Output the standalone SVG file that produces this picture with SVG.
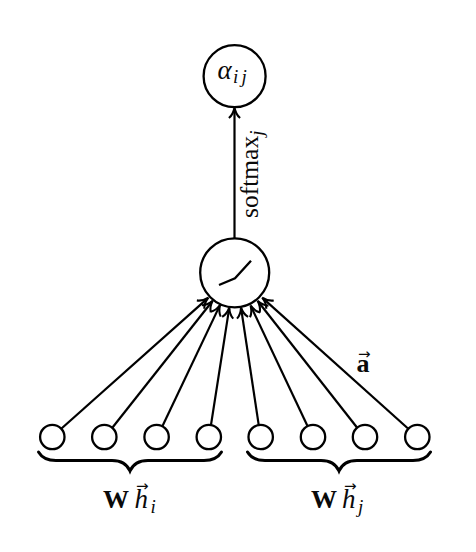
<svg xmlns="http://www.w3.org/2000/svg" width="476" height="552" viewBox="0 0 476 552">
<style>
.n{fill:#fff;stroke:#000;stroke-width:2.3}
.c{fill:none;stroke:#000;stroke-width:2.2;marker-end:url(#tip)}
.b{fill:none;stroke:#000;stroke-width:3;stroke-linecap:round}
text{font-family:"Liberation Serif","DejaVu Serif",serif;fill:#0a0a0a}
.m{font-size:27px;font-style:italic}
.s{font-size:19px;font-style:italic}
.w{font-size:26px;font-weight:700}
.v{font-size:15px;font-weight:400;font-family:"DejaVu Sans",sans-serif}
</style>
<defs>
<marker id="tip" markerUnits="userSpaceOnUse" markerWidth="20" markerHeight="20" viewBox="-14 -10 20 20" refX="0" refY="0" orient="auto" overflow="visible">
<path d="M-9 -5.600C-6.500 -2.500 -3 -.8 1.500 0C-3 .8 -6.500 2.500 -9 5.600" fill="none" stroke="#000" stroke-width="2.100"/>
</marker>
</defs>
<g id="connectors">
<line class="c" x1="234.5" y1="238" x2="234.5" y2="109"/>
<line class="c" x1="61.5" y1="428.5" x2="207.3" y2="298.6"/>
<line class="c" x1="112.5" y1="427.5" x2="211.9" y2="301.7"/>
<line class="c" x1="162.5" y1="426" x2="219.500" y2="306.100"/>
<line class="c" x1="211" y1="424.8" x2="229.100" y2="308.900"/>
<line class="c" x1="258.7" y1="424.8" x2="241.200" y2="308.900"/>
<line class="c" x1="307.5" y1="426" x2="251.200" y2="306.800"/>
<line class="c" x1="357" y1="427.5" x2="258.500" y2="302"/>
<line class="c" x1="408" y1="428.5" x2="263.300" y2="298.600"/>
</g>
<g id="alpha">
<circle class="n" cx="234.6" cy="76.2" r="31"/>
<text><tspan class="m" x="217.500" y="79">α</tspan><tspan class="s" x="233" y="83">i</tspan><tspan class="s" x="241.500" y="83">j</tspan></text>
</g>
<g id="softmax-label">
<text transform="translate(258 218) rotate(-90)" font-size="25.500"><tspan>softmax</tspan><tspan class="s" dy="5">j</tspan></text>
</g>
<g id="activation">
<circle class="n" cx="234.7" cy="272.8" r="34.5"/>
<polyline points="219,285 235,278.3 251,260.7" fill="none" stroke="#000" stroke-width="2.3"/>
</g>
<g id="input-1"><circle class="n" cx="52.3" cy="437" r="12.2"/></g>
<g id="input-2"><circle class="n" cx="104.3" cy="437" r="12.2"/></g>
<g id="input-3"><circle class="n" cx="156.6" cy="437" r="12.2"/></g>
<g id="input-4"><circle class="n" cx="208.8" cy="437" r="12.2"/></g>
<g id="input-5"><circle class="n" cx="260.7" cy="437" r="12.2"/></g>
<g id="input-6"><circle class="n" cx="313" cy="437" r="12.2"/></g>
<g id="input-7"><circle class="n" cx="365" cy="437" r="12.2"/></g>
<g id="input-8"><circle class="n" cx="417.3" cy="437" r="12.2"/></g>
<g id="brace-i">
<path class="b" d="M38.500 452C42 458 47 460.500 56 460.500H112C122 460.500 127 464 130 471C133 464 138 460.500 148 460.500H204C213 460.500 218 458 221.500 452"/>
<text><tspan class="w" x="103" y="508">W</tspan><tspan class="v" x="136" y="490.500">→</tspan><tspan class="m" x="134.500" y="508">h</tspan><tspan class="s" x="150.500" y="512.500">i</tspan></text>
</g>
<g id="brace-j">
<path class="b" d="M247.500 452C251 458 256 460.500 265 460.500H321C331 460.500 336 464 339 471C342 464 347 460.500 357 460.500H413C422 460.500 427 458 430.500 452"/>
<text><tspan class="w" x="311" y="508">W</tspan><tspan class="v" x="344" y="490.500">→</tspan><tspan class="m" x="342" y="508">h</tspan><tspan class="s" x="358" y="512.500">j</tspan></text>
</g>
<g id="a-label">
<text><tspan class="v" x="358" y="358.500">→</tspan><tspan class="w" x="356.500" y="372">a</tspan></text>
</g>
</svg>
